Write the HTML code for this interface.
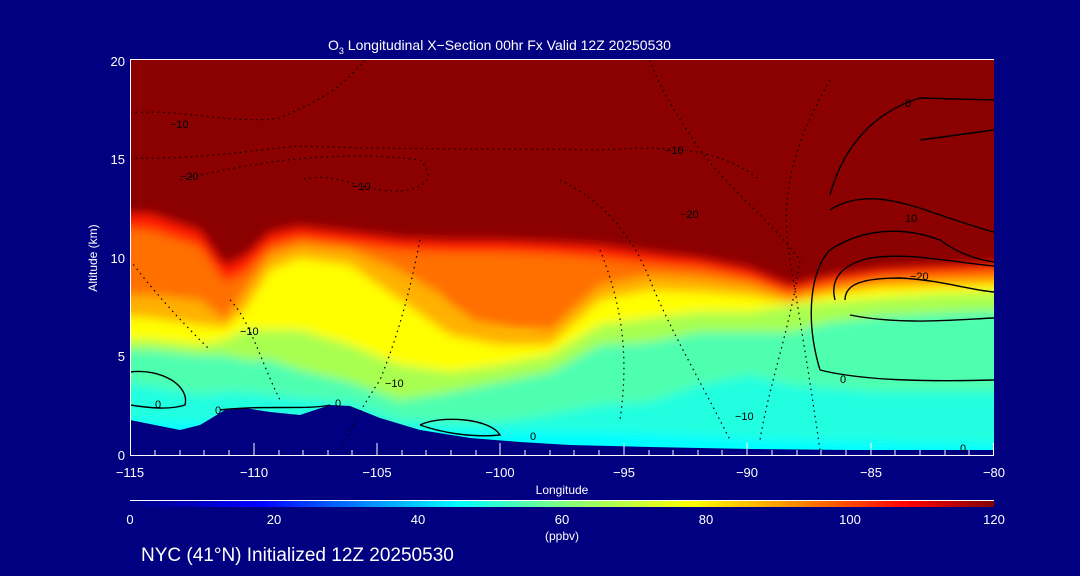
<!DOCTYPE html>
<html><head><style>
body{margin:0;background:#000080;}
svg{display:block;font-family:"Liberation Sans",sans-serif;}
</style></head><body>
<svg width="1080" height="576" viewBox="0 0 1080 576">
<defs>
<clipPath id="pc"><rect x="130" y="60" width="864" height="395"/></clipPath>
<filter id="bl" x="-5%" y="-5%" width="110%" height="110%"><feGaussianBlur stdDeviation="5"/></filter>
<linearGradient id="cb" x1="0" x2="1">
<stop offset="0" stop-color="#000080"/><stop offset="0.15" stop-color="#0000ff"/>
<stop offset="0.38" stop-color="#00ffff"/><stop offset="0.5" stop-color="#80ff80"/>
<stop offset="0.65" stop-color="#ffff00"/><stop offset="0.78" stop-color="#ff8000"/>
<stop offset="0.9" stop-color="#ff0000"/><stop offset="1" stop-color="#800000"/>
</linearGradient>
</defs>
<rect width="1080" height="576" fill="#000080"/>
<g clip-path="url(#pc)">
<rect x="130" y="60" width="864" height="395" fill="#8b0000"/>
<g filter="url(#bl)">
<polygon fill="#ff1a00" points="110,213 150,213 200,230 225,265 245,255 270,232 300,226 350,232 400,238 450,240 500,240 550,242 600,245 650,252 700,258 750,268 790,285 830,275 880,268 940,265 1010,262 1010,470 110,470"/>
<polygon fill="#ff7000" points="110,228 150,230 200,246 225,282 245,272 270,246 300,238 350,244 400,250 450,252 500,252 550,254 600,258 650,264 700,268 750,278 790,292 830,282 880,275 940,272 1010,270 1010,470 110,470"/>
<polygon fill="#ffb000" points="110,295 150,295 200,300 225,320 245,290 270,255 300,245 350,250 400,270 450,300 500,320 550,330 600,285 650,275 700,278 750,285 790,298 830,290 880,282 940,280 1010,278 1010,470 110,470"/>
<polygon fill="#ffff00" points="110,315 150,318 200,325 225,328 245,310 270,270 300,258 350,265 400,300 450,335 500,345 550,345 600,300 650,290 700,292 750,296 790,303 830,294 880,288 940,286 1010,284 1010,470 110,470"/>
<polygon fill="#a8ff50" points="110,340 150,340 200,345 225,340 245,330 270,330 300,330 350,345 400,365 450,372 500,365 550,355 600,325 650,318 700,312 750,312 790,305 830,302 880,298 940,294 1010,292 1010,470 110,470"/>
<polygon fill="#50ffb0" points="110,350 150,350 200,355 225,355 245,360 270,360 300,370 350,382 400,400 450,392 500,382 550,372 600,345 650,342 700,332 750,332 790,332 830,322 880,316 940,313 1010,310 1010,470 110,470"/>
<polygon fill="#20ffe0" points="110,382 150,386 200,395 225,392 245,392 270,395 300,398 350,402 400,420 450,422 500,422 550,415 600,405 650,402 700,385 750,375 790,385 830,388 880,392 940,392 1010,392 1010,470 110,470"/>
<polygon fill="#00ffff" points="110,420 400,430 500,432 600,432 700,436 800,440 900,442 1010,444 1010,470 110,470"/>
</g>
<polygon fill="#ff7000" filter="url(#bl)" points="440,265 490,262 540,268 560,290 555,318 520,325 475,320 450,300"/>
<polygon fill="#000080" points="130,420 180,430 200,425 225,410 245,408 270,412 300,415 330,405 350,406 380,418 420,430 470,438 520,442 570,445 650,447 750,449 850,450 994,450 994,455 130,455"/>
<g fill="none" stroke="#000" stroke-width="1.2" stroke-dasharray="1.5 4">
<path d="M130,113 C180,108 230,125 280,118 C320,100 340,90 365,60"/>
<path d="M130,158 C200,160 250,150 300,146 C400,150 500,148 600,150 C680,145 720,150 760,180"/>
<path d="M180,180 C260,160 340,150 420,160 C440,180 420,195 380,190 C350,185 330,172 300,180"/>
<path d="M650,60 C660,90 680,120 700,150 C730,190 770,220 800,260 C790,330 770,380 760,440"/>
<path d="M560,180 C600,200 630,230 650,280 C670,330 700,380 730,440"/>
<path d="M420,240 C410,290 400,330 380,380 C360,410 350,430 340,450"/>
<path d="M230,300 C250,320 260,360 280,400"/>
<path d="M600,250 C620,300 630,350 620,420"/>
<path d="M830,80 C790,150 780,200 790,260 C800,320 810,380 820,450"/>
<path d="M130,260 C160,300 190,330 210,350"/>
</g>
<g fill="none" stroke="#000" stroke-width="1.4">
<path d="M820,370 C860,380 920,382 994,380"/>
<path d="M820,370 C805,320 810,270 830,250 C860,230 900,225 940,240 C960,255 980,260 994,262"/>
<path d="M835,300 C830,280 840,265 870,258 C910,252 950,262 994,266"/>
<path d="M845,300 C845,285 860,278 900,278 C940,280 970,290 994,292"/>
<path d="M850,315 C900,325 950,320 994,318"/>
<path d="M830,195 C845,140 880,110 920,98 L994,100"/>
<path d="M830,210 C860,190 900,200 940,215 C970,225 985,230 994,232"/>
<path d="M920,140 L994,130"/>
<path d="M130,372 C160,368 190,385 185,405 C170,410 150,408 130,405"/>
<path d="M420,425 C440,415 490,418 500,435 C470,438 440,432 420,425"/>
<path d="M220,410 C260,405 310,410 330,405"/>
</g>
<g font-size="11" fill="#000">
<text x="170" y="128">−10</text><text x="180" y="180">−20</text><text x="352" y="190">−10</text>
<text x="665" y="154">−10</text><text x="680" y="218">−20</text><text x="905" y="107">0</text>
<text x="905" y="222">10</text><text x="910" y="280">−20</text><text x="840" y="383">0</text>
<text x="240" y="335">−10</text><text x="385" y="387">−10</text><text x="735" y="420">−10</text>
<text x="155" y="408">0</text><text x="215" y="414">0</text><text x="335" y="407">0</text>
<text x="530" y="440">0</text><text x="960" y="452">0</text>
</g>
</g>
<g stroke="#fff" stroke-width="1" fill="none">
<line x1="130" y1="59.5" x2="994" y2="59.5"/>
<line x1="130.5" y1="60" x2="130.5" y2="455"/>
<line x1="130" y1="455.5" x2="994" y2="455.5"/>
</g>
<g stroke="#fff" stroke-width="1">
<line x1="130.5" y1="448" x2="130.5" y2="455"/><line x1="254" y1="443" x2="254" y2="455"/><line x1="377" y1="443" x2="377" y2="455"/><line x1="500" y1="443" x2="500" y2="455"/><line x1="624" y1="443" x2="624" y2="455"/><line x1="747" y1="443" x2="747" y2="455"/><line x1="871" y1="443" x2="871" y2="455"/><line x1="993.5" y1="443" x2="993.5" y2="455"/>
<line x1="155" y1="450" x2="155" y2="455"/><line x1="180" y1="450" x2="180" y2="455"/><line x1="204" y1="450" x2="204" y2="455"/><line x1="229" y1="450" x2="229" y2="455"/>
<line x1="279" y1="450" x2="279" y2="455"/><line x1="303" y1="450" x2="303" y2="455"/><line x1="328" y1="450" x2="328" y2="455"/><line x1="352" y1="450" x2="352" y2="455"/>
<line x1="402" y1="450" x2="402" y2="455"/><line x1="426" y1="450" x2="426" y2="455"/><line x1="451" y1="450" x2="451" y2="455"/><line x1="476" y1="450" x2="476" y2="455"/>
<line x1="525" y1="450" x2="525" y2="455"/><line x1="550" y1="450" x2="550" y2="455"/><line x1="574" y1="450" x2="574" y2="455"/><line x1="599" y1="450" x2="599" y2="455"/>
<line x1="649" y1="450" x2="649" y2="455"/><line x1="673" y1="450" x2="673" y2="455"/><line x1="698" y1="450" x2="698" y2="455"/><line x1="722" y1="450" x2="722" y2="455"/>
<line x1="772" y1="450" x2="772" y2="455"/><line x1="797" y1="450" x2="797" y2="455"/><line x1="821" y1="450" x2="821" y2="455"/><line x1="846" y1="450" x2="846" y2="455"/>
<line x1="895" y1="450" x2="895" y2="455"/><line x1="920" y1="450" x2="920" y2="455"/><line x1="945" y1="450" x2="945" y2="455"/><line x1="969" y1="450" x2="969" y2="455"/>
</g>
<g fill="#fff" font-size="13">
<text x="125" y="66" text-anchor="end">20</text><text x="125" y="164" text-anchor="end">15</text>
<text x="125" y="263" text-anchor="end">10</text><text x="125" y="361" text-anchor="end">5</text>
<text x="125" y="460" text-anchor="end">0</text>
<text x="130" y="477" text-anchor="middle">−115</text><text x="254" y="477" text-anchor="middle">−110</text>
<text x="377" y="477" text-anchor="middle">−105</text><text x="500" y="477" text-anchor="middle">−100</text>
<text x="624" y="477" text-anchor="middle">−95</text><text x="747" y="477" text-anchor="middle">−90</text>
<text x="871" y="477" text-anchor="middle">−85</text><text x="994" y="477" text-anchor="middle">−80</text>
<text x="562" y="494" text-anchor="middle" font-size="12">Longitude</text>
<text x="97" y="258" text-anchor="middle" font-size="12" transform="rotate(-90 97 258)">Altitude (km)</text>
<text x="328" y="50" font-size="14">O<tspan font-size="9" dy="4">3</tspan><tspan dy="-4"> Longitudinal X−Section 00hr  Fx Valid 12Z 20250530</tspan></text>
<text x="130" y="524" text-anchor="middle">0</text><text x="274" y="524" text-anchor="middle">20</text>
<text x="418" y="524" text-anchor="middle">40</text><text x="562" y="524" text-anchor="middle">60</text>
<text x="706" y="524" text-anchor="middle">80</text><text x="850" y="524" text-anchor="middle">100</text>
<text x="994" y="524" text-anchor="middle">120</text>
<text x="562" y="540" text-anchor="middle" font-size="12">(ppbv)</text>
<text x="141" y="561" font-size="19">NYC (41°N) Initialized 12Z 20250530</text>
</g>
<line x1="130" y1="500.5" x2="994" y2="500.5" stroke="#fff"/>
<rect x="130" y="501" width="864" height="6" fill="url(#cb)"/>
</svg>
</body></html>
